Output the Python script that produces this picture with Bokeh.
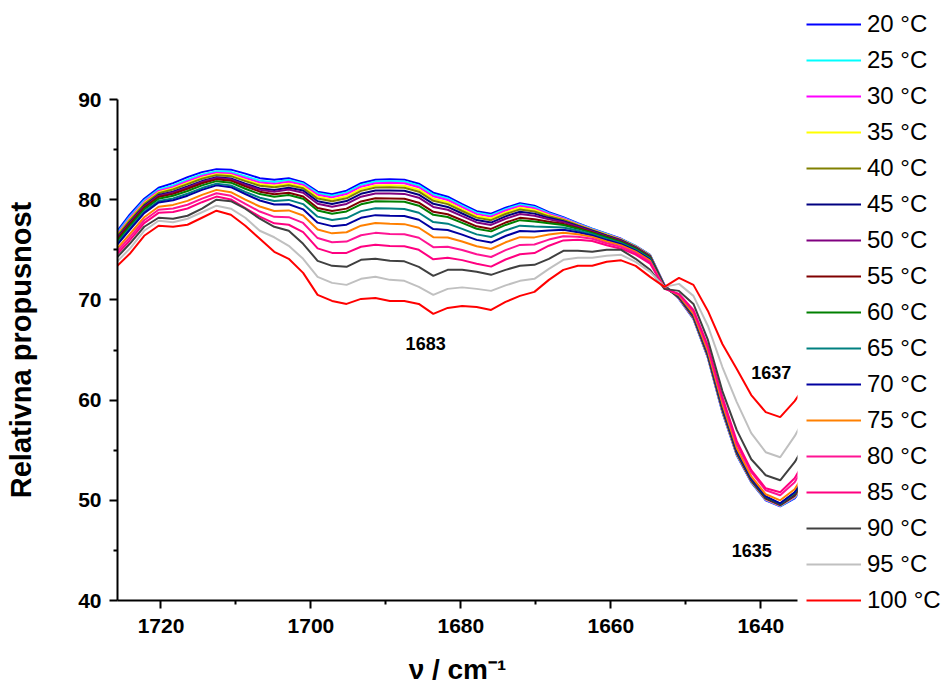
from bokeh.plotting import figure
from bokeh.models import Range1d, Legend, LegendItem, Label, FixedTicker
from bokeh.layouts import row
from bokeh.embed import file_html
from bokeh.resources import INLINE

# ---------------- data ----------------
wavenumber = [1728.03, 1726.10, 1724.17, 1722.24, 1720.32, 1718.39, 1716.46, 1714.53, 1712.60, 1710.68,
              1708.75, 1706.82, 1704.89, 1702.96, 1701.04, 1699.11, 1697.18, 1695.25, 1693.32, 1691.40,
              1689.47, 1687.54, 1685.61, 1683.68, 1681.76, 1679.83, 1677.90, 1675.97, 1674.04, 1672.12,
              1670.19, 1668.26, 1666.33, 1664.40, 1662.48, 1660.55, 1658.62, 1656.69, 1654.76, 1652.84,
              1650.91, 1648.98, 1647.05, 1645.12, 1643.20, 1641.27, 1639.34, 1637.41, 1635.48, 1633.56]

t20 = [75.0, 76.6, 78.5, 80.1, 81.2, 81.65, 82.25, 82.75, 83.05, 83.0, 82.6, 82.15, 82.0, 82.15, 81.75, 80.8, 80.55, 80.9, 81.65, 82.0,
       82.05, 82.0, 81.6, 80.7, 80.3, 79.55, 78.85, 78.6, 79.2, 79.65, 79.4, 78.75, 78.25, 77.65, 77.1, 76.6, 76.1, 75.4, 74.5, 71.5,
       70.1, 68.1, 64.2, 58.8, 54.5, 51.8, 50.0, 49.4, 50.2, 52.0]
t25 = [74.85, 76.43, 78.31, 79.92, 81.01, 81.43, 82.01, 82.52, 82.84, 82.78, 82.34, 81.9, 81.76, 81.96, 81.61, 80.65, 80.39, 80.73, 81.48, 81.82,
       81.87, 81.82, 81.42, 80.52, 80.13, 79.4, 78.71, 78.46, 79.06, 79.51, 79.27, 78.66, 78.19, 77.61, 77.07, 76.57, 76.07, 75.38, 74.48, 71.45,
       70.13, 68.14, 64.25, 58.86, 54.55, 51.84, 50.04, 49.43, 50.26, 52.1]
t30 = [74.75, 76.31, 78.17, 79.79, 80.88, 81.28, 81.85, 82.36, 82.7, 82.62, 82.16, 81.72, 81.58, 81.8, 81.48, 80.49, 80.23, 80.56, 81.3, 81.65,
       81.69, 81.64, 81.24, 80.34, 79.97, 79.25, 78.56, 78.31, 78.92, 79.37, 79.14, 78.57, 78.12, 77.56, 77.03, 76.54, 76.05, 75.35, 74.45, 71.45,
       70.16, 68.18, 64.3, 58.92, 54.6, 51.88, 50.08, 49.46, 50.32, 52.2]
t35 = [74.64, 76.19, 78.03, 79.66, 80.74, 81.13, 81.68, 82.2, 82.55, 82.46, 81.98, 81.53, 81.39, 81.6, 81.3, 80.29, 80.02, 80.34, 81.07, 81.41,
       81.44, 81.4, 81.0, 80.1, 79.75, 79.04, 78.37, 78.12, 78.73, 79.19, 78.97, 78.45, 78.04, 77.5, 76.99, 76.5, 76.01, 75.32, 74.42, 71.4,
       70.19, 68.22, 64.35, 58.98, 54.65, 51.92, 50.12, 49.49, 50.38, 52.3]
t40 = [74.57, 76.11, 77.93, 79.56, 80.65, 81.02, 81.56, 82.09, 82.45, 82.35, 81.85, 81.39, 81.24, 81.45, 81.14, 80.11, 79.84, 80.14, 80.88, 81.21,
       81.24, 81.19, 80.8, 79.89, 79.56, 78.87, 78.21, 77.96, 78.57, 79.03, 78.82, 78.34, 77.97, 77.45, 76.95, 76.46, 75.98, 75.29, 74.39, 71.4,
       70.22, 68.26, 64.4, 59.04, 54.7, 51.96, 50.16, 49.52, 50.44, 52.4]
t45 = [74.42, 75.94, 77.74, 79.38, 80.46, 80.8, 81.32, 81.86, 82.24, 82.12, 81.59, 81.13, 80.96, 81.2, 80.92, 79.85, 79.57, 79.86, 80.59, 80.91,
       80.93, 80.89, 80.5, 79.59, 79.28, 78.62, 77.97, 77.72, 78.34, 78.8, 78.61, 78.19, 77.86, 77.38, 76.9, 76.41, 75.93, 75.25, 74.35, 71.35,
       70.25, 68.3, 64.45, 59.1, 54.75, 52.0, 50.2, 49.55, 50.5, 52.5]
t50 = [74.36, 75.87, 77.66, 79.3, 80.38, 80.71, 81.23, 81.77, 82.16, 82.03, 81.48, 81.0, 80.8, 81.01, 80.69, 79.6, 79.3, 79.58, 80.3, 80.62,
       80.63, 80.58, 80.2, 79.28, 79.0, 78.36, 77.73, 77.48, 78.1, 78.57, 78.39, 78.04, 77.76, 77.3, 76.84, 76.35, 75.89, 75.21, 74.31, 71.35,
       70.28, 68.34, 64.5, 59.16, 54.8, 52.04, 50.24, 49.58, 50.56, 52.6]
t55 = [74.27, 75.77, 77.54, 79.19, 80.27, 80.58, 81.09, 81.64, 82.03, 81.9, 81.33, 80.8, 80.55, 80.7, 80.32, 79.17, 78.87, 79.11, 79.83, 80.14,
       80.13, 80.09, 79.7, 78.79, 78.55, 77.95, 77.34, 77.08, 77.72, 78.19, 78.04, 77.79, 77.59, 77.18, 76.75, 76.27, 75.82, 75.15, 74.25, 71.3,
       70.31, 68.38, 64.55, 59.22, 54.85, 52.08, 50.28, 49.61, 50.62, 52.7]
t60 = [74.13, 75.61, 77.37, 79.03, 80.1, 80.39, 80.87, 81.43, 81.85, 81.7, 81.09, 80.56, 80.29, 80.46, 80.09, 78.92, 78.6, 78.83, 79.54, 79.84,
       79.83, 79.79, 79.4, 78.49, 78.27, 77.69, 77.1, 76.84, 77.48, 77.96, 77.83, 77.64, 77.48, 77.11, 76.69, 76.22, 75.77, 75.11, 74.21, 71.3,
       70.34, 68.42, 64.6, 59.28, 54.9, 52.12, 50.32, 49.64, 50.68, 52.8]
t65 = [73.95, 75.41, 77.14, 78.81, 79.87, 80.13, 80.59, 81.16, 81.6, 81.43, 80.78, 80.2, 79.87, 79.98, 79.56, 78.31, 77.97, 78.17, 78.86, 79.14,
       79.11, 79.07, 78.7, 77.77, 77.61, 77.09, 76.54, 76.28, 76.93, 77.41, 77.32, 77.28, 77.23, 76.93, 76.56, 76.09, 75.66, 75.01, 74.11, 71.25,
       70.37, 68.46, 64.65, 59.34, 54.95, 52.16, 50.36, 49.67, 50.74, 52.9]
t70 = [73.83, 75.27, 76.98, 78.66, 79.72, 79.95, 80.4, 80.98, 81.43, 81.25, 80.57, 79.92, 79.52, 79.55, 79.04, 77.71, 77.36, 77.51, 78.19, 78.46,
       78.41, 78.37, 78.0, 77.07, 76.97, 76.51, 75.99, 75.72, 76.38, 76.88, 76.82, 76.93, 76.99, 76.76, 76.43, 75.97, 75.56, 74.92, 74.02, 71.25,
       70.4, 68.5, 64.7, 59.4, 55.0, 52.2, 50.4, 49.7, 50.8, 53.0]
t75 = [73.5, 74.9, 76.55, 78.25, 79.3, 79.48, 79.88, 80.48, 80.98, 80.75, 80.0, 79.32, 78.88, 78.93, 78.43, 77.02, 76.64, 76.75, 77.41, 77.67,
       77.59, 77.56, 77.2, 76.26, 76.23, 75.83, 75.35, 75.08, 75.75, 76.26, 76.24, 76.52, 76.71, 76.56, 76.29, 75.83, 75.44, 74.81, 73.91, 71.2,
       70.45, 68.6, 64.85, 59.6, 55.2, 52.4, 50.6, 50.0, 51.1, 53.4]
t80 = [73.26, 74.63, 76.24, 77.95, 79.0, 79.13, 79.5, 80.11, 80.64, 80.39, 79.58, 78.82, 78.29, 78.26, 77.68, 76.17, 75.76, 75.82, 76.45, 76.69,
       76.58, 76.56, 76.2, 75.26, 75.31, 74.98, 74.55, 74.28, 74.97, 75.49, 75.53, 76.02, 76.36, 76.31, 76.1, 75.66, 75.29, 74.68, 73.78, 71.15,
       70.55, 68.85, 65.2, 60.0, 55.6, 52.8, 51.0, 50.5, 51.8, 54.2]
t85 = [73.02, 74.36, 75.93, 77.66, 78.69, 78.78, 79.12, 79.75, 80.31, 80.03, 79.17, 78.32, 77.64, 77.5, 76.77, 75.14, 74.69, 74.69, 75.3, 75.51,
       75.37, 75.35, 75.0, 74.05, 74.2, 73.97, 73.6, 73.32, 74.03, 74.56, 74.67, 75.41, 75.94, 76.01, 75.88, 75.45, 75.11, 74.52, 73.62, 71.1,
       70.6, 69.0, 65.4, 60.3, 55.9, 53.0, 51.2, 50.8, 52.2, 54.7]
t90 = [72.75, 74.05, 75.6, 77.3, 78.2, 78.1, 78.4, 79.1, 80.0, 79.85, 79.1, 78.1, 77.3, 76.9, 75.6, 73.9, 73.4, 73.3, 74.0, 74.1,
       73.9, 73.85, 73.3, 72.4, 73.0, 73.0, 72.8, 72.5, 73.0, 73.4, 73.5, 74.1, 74.9, 74.9, 74.8, 75.0, 75.0, 74.1, 73.0, 71.1,
       70.9, 69.6, 66.0, 60.9, 57.0, 54.1, 52.5, 52.0, 53.8, 56.3]
t95 = [72.4, 73.65, 75.1, 76.9, 77.9, 77.75, 78.1, 78.75, 79.4, 79.1, 78.2, 76.9, 76.25, 75.4, 74.1, 72.3, 71.7, 71.5, 72.1, 72.3,
       72.0, 71.9, 71.3, 70.5, 71.1, 71.25, 71.1, 70.9, 71.45, 71.9, 72.1, 73.1, 74.0, 74.2, 74.2, 74.4, 74.5, 73.8, 72.8, 71.3,
       71.6, 70.4, 67.4, 63.3, 59.8, 56.7, 54.8, 54.3, 56.4, 59.0]
t100 = [72.0, 73.2, 74.6, 76.4, 77.4, 77.3, 77.5, 78.2, 78.9, 78.5, 77.4, 76.1, 74.8, 74.1, 72.7, 70.5, 69.9, 69.6, 70.1, 70.2,
        69.9, 69.9, 69.6, 68.6, 69.2, 69.4, 69.3, 69.0, 69.8, 70.4, 70.8, 72.0, 73.0, 73.4, 73.4, 73.8, 73.95, 73.4, 72.3, 71.3,
        72.2, 71.5, 68.9, 65.6, 63.1, 60.5, 58.8, 58.3, 59.9, 62.0]

temperatures = [20, 25, 30, 35, 40, 45, 50, 55, 60, 65, 70, 75, 80, 85, 90, 95, 100]
legend_labels = [f"{t} °C" for t in temperatures]
series_colors = ["#0000FF", "#00FFFF", "#FF00FF", "#FFFF00", "#808000", "#000080", "#800080", "#800000",
                 "#008000", "#008080", "#0000A0", "#FF8000", "#FF1493", "#FF0080", "#404040", "#C0C0C0", "#FF0000"]
series = [t20, t25, t30, t35, t40, t45, t50, t55, t60, t65, t70, t75, t80, t85, t90, t95, t100]

peak_text = ["1683", "1637", "1635"]
peak_x = [1684.7, 1638.6, 1641.2]
peak_y = [65.6, 62.75, 45.0]

x_ticks = [1640, 1660, 1680, 1700, 1720]
x_minor = [1650, 1670, 1690, 1710]
y_ticks = [40, 50, 60, 70, 80, 90]
y_minor = [45, 55, 65, 75, 85]

# ---------------- main figure ----------------
FONT = "Liberation Sans"
H = 688
p = figure(width=800, height=H, output_backend="svg", toolbar_location=None,
           x_range=Range1d(1725.8, 1635.1), y_range=Range1d(40, 90),
           min_border_left=117, min_border_right=3, min_border_top=99, min_border_bottom=H - 600)
p.frame_align = False
p.outline_line_color = None
p.xgrid.visible = False
p.ygrid.visible = False

for ys, col in zip(series, series_colors):
    p.line(wavenumber, ys, line_color=col, line_width=2)

p.xaxis.ticker = FixedTicker(ticks=x_ticks, minor_ticks=x_minor)
p.yaxis.ticker = FixedTicker(ticks=y_ticks, minor_ticks=y_minor)
for ax in (p.xaxis[0], p.yaxis[0]):
    ax.axis_line_width = 2
    ax.axis_line_color = "black"
    ax.major_tick_line_width = 2
    ax.minor_tick_line_width = 2
    ax.major_tick_line_color = "black"
    ax.minor_tick_line_color = "black"
    ax.major_tick_in = 0
    ax.major_tick_out = 8
    ax.minor_tick_in = 0
    ax.minor_tick_out = 4
    ax.major_label_text_font = FONT
    ax.major_label_text_font_style = "bold"
    ax.major_label_text_font_size = "21px"
    ax.major_label_text_color = "black"
    ax.axis_label_text_font = FONT
    ax.axis_label_text_font_style = "bold"
    ax.axis_label_text_color = "black"

p.yaxis.axis_label = "Relativna propusnost"
p.yaxis.axis_label_text_font_size = "29px"
p.yaxis.axis_label_standoff = 38
p.yaxis.major_label_standoff = 8
p.xaxis.axis_label = "ν / cm⁻¹"
p.xaxis.axis_label_text_font_size = "28px"
p.xaxis.axis_label_standoff = 18
p.xaxis.major_label_standoff = 10

for txt, px, py in zip(peak_text, peak_x, peak_y):
    p.add_layout(Label(x=px, y=py, text=txt, text_align="center", text_baseline="middle",
                       text_font=FONT, text_font_style="bold", text_font_size="18px",
                       text_color="black"))

# ---------------- legend panel ----------------
# the same series are drawn here outside the visible range, only so that the legend has glyphs
q = figure(width=146, height=H, output_backend="svg", toolbar_location=None,
           x_axis_type=None, y_axis_type=None, x_range=Range1d(0, 1), y_range=Range1d(0, 1),
           min_border_left=0, min_border_right=0, min_border_top=0, min_border_bottom=0)
q.frame_align = False
q.outline_line_color = None
q.xgrid.visible = False
q.ygrid.visible = False
legend_renderers = [q.line(wavenumber, ys, line_color=col, line_width=2)
                    for ys, col in zip(series, series_colors)]
items = [LegendItem(label=lab, renderers=[r]) for lab, r in zip(legend_labels, legend_renderers)]
legend = Legend(items=items, location=(6, H - 614), orientation="vertical",
                label_text_font=FONT, label_text_font_size="24px", label_text_color="black",
                glyph_width=55, glyph_height=20, label_height=28, label_standoff=6,
                spacing=8, padding=0, margin=0, border_line_color=None,
                background_fill_alpha=0)
q.add_layout(legend)

open("out.html", "w").write(file_html(row(p, q), INLINE))
